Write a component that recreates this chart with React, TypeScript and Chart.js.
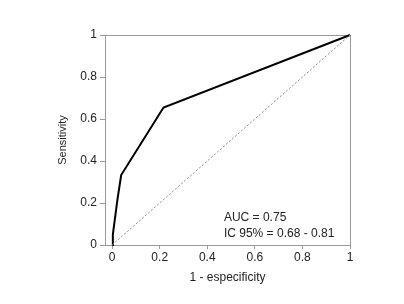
import React, { useEffect, useRef } from "react";
import { Chart, registerables } from "chart.js";

Chart.register(...registerables);

// ROC curve points (1 - specificity, sensitivity)
const ROC_FPR = [0, 0.003, 0.022, 0.038, 0.216, 1];
const ROC_TPR = [0, 0.05, 0.214, 0.333, 0.655, 1];
// Reference diagonal
const DIAG_X = [0, 1];
const DIAG_Y = [0, 1];
// Tick values
const X_TICKS = [0, 0.2, 0.4, 0.6, 0.8, 1];
const Y_TICKS = [0, 0.2, 0.4, 0.6, 0.8, 1];
// Annotation texts and their anchor (data coords)
const NOTE_LINES = ["AUC = 0.75", "IC 95% = 0.68 - 0.81"];
const NOTE_X = 0.47;
const NOTE_Y = [0.129, 0.052];

const FONT = "'Liberation Sans', Arial, Helvetica, sans-serif";
const TEXT_COLOR = "#222222";
const AXIS_COLOR = "#9a9a9a";

const boxPlugin = {
  id: "boxAndNotes",
  beforeDatasetsDraw(chart: any) {
    const { ctx, chartArea } = chart;
    ctx.save();
    ctx.strokeStyle = AXIS_COLOR;
    ctx.lineWidth = 1;
    ctx.strokeRect(
      Math.round(chartArea.left) + 0.5,
      Math.round(chartArea.top) + 0.5,
      Math.round(chartArea.right - chartArea.left),
      Math.round(chartArea.bottom - chartArea.top)
    );
    ctx.restore();
  },
  afterDraw(chart: any) {
    const { ctx, scales } = chart;
    ctx.save();
    ctx.fillStyle = TEXT_COLOR;
    ctx.font = `12px ${FONT}`;
    ctx.textAlign = "left";
    ctx.textBaseline = "middle";
    NOTE_LINES.forEach((t, i) => {
      ctx.fillText(t, scales.x.getPixelForValue(NOTE_X), scales.y.getPixelForValue(NOTE_Y[i]));
    });
    ctx.restore();
  },
};

export default function App() {
  const ref = useRef<HTMLCanvasElement | null>(null);
  useEffect(() => {
    if (!ref.current) return;
    const chart = new Chart(ref.current, {
      type: "scatter",
      data: {
        datasets: [
          {
            label: "Reference",
            data: DIAG_X.map((x, i) => ({ x, y: DIAG_Y[i] })),
            showLine: true,
            borderColor: "#8a8a8a",
            borderWidth: 1,
            borderDash: [2, 2],
            pointRadius: 0,
            clip: 4,
          },
          {
            label: "ROC",
            data: ROC_FPR.map((x, i) => ({ x, y: ROC_TPR[i] })),
            showLine: true,
            borderColor: "#000000",
            borderWidth: 2,
            pointRadius: 0,
            clip: 4,
          },
        ],
      },
      options: {
        animation: false,
        responsive: false,
        layout: { padding: { left: 0, top: 35, right: 54, bottom: 0 } },
        plugins: {
          legend: { display: false },
          tooltip: { enabled: false },
        },
        scales: {
          x: {
            type: "linear",
            min: -0.03,
            max: 1,
            afterBuildTicks: (s: any) => {
              s.ticks = X_TICKS.map((v) => ({ value: v }));
            },
            afterFit: (s: any) => {
              s.height = 59;
            },
            grid: {
              drawOnChartArea: false,
              drawTicks: true,
              tickLength: 4,
              color: AXIS_COLOR,
            },
            border: { display: false },
            ticks: {
              padding: 1,
              maxRotation: 0,
              color: TEXT_COLOR,
              font: { family: FONT, size: 12 },
              callback: (v: any) => String(Number(v)),
            },
            title: {
              display: true,
              text: "1 - especificity",
              color: TEXT_COLOR,
              font: { family: FONT, size: 12 },
              padding: { top: 0, bottom: 19 },
            },
          },
          y: {
            type: "linear",
            min: 0,
            max: 1,
            afterBuildTicks: (s: any) => {
              s.ticks = Y_TICKS.map((v) => ({ value: v }));
            },
            afterFit: (s: any) => {
              s.width = 105;
            },
            grid: {
              drawOnChartArea: false,
              drawTicks: true,
              tickLength: 5,
              color: AXIS_COLOR,
            },
            border: { display: false },
            ticks: {
              padding: 3,
              color: TEXT_COLOR,
              font: { family: FONT, size: 12 },
              callback: (v: any) => String(Number(v)),
            },
            title: {
              display: true,
              text: "Sensitivity",
              color: TEXT_COLOR,
              font: { family: FONT, size: 11 },
              padding: { top: 56, bottom: 0 },
            },
          },
        },
      },
      plugins: [boxPlugin],
    });
    return () => chart.destroy();
  }, []);
  return (
    <div style={{ position: "fixed", left: 0, top: 0, width: 404, height: 304, background: "#fff" }}>
      <canvas ref={ref} width={404} height={304} style={{ display: "block" }} />
    </div>
  );
}
